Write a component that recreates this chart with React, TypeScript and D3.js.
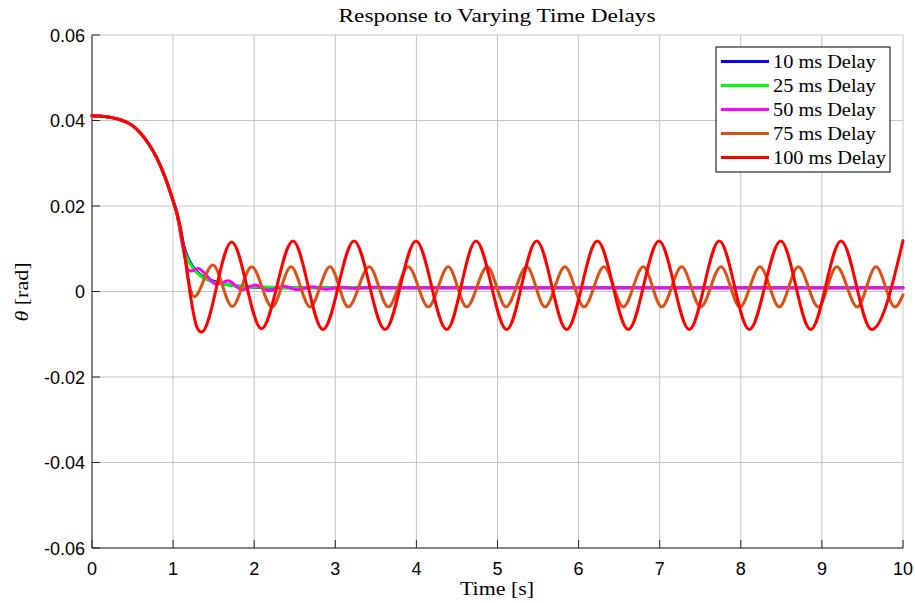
import React from "react";
import * as d3 from "d3";

// ---- data (time [s], theta [rad]) ----
const timeTicks = [0, 1, 2, 3, 4, 5, 6, 7, 8, 9, 10];
const thetaTicks = [-0.06, -0.04, -0.02, 0, 0.02, 0.04, 0.06];
const thetaTickLabels = ["-0.06", "-0.04", "-0.02", "0", "0.02", "0.04", "0.06"];

const initialDecay: [number, number][] = [
  [0, 0.0411], [0.2, 0.0408], [0.4, 0.0398], [0.5, 0.0388], [0.6, 0.0370],
  [0.7, 0.0345], [0.8, 0.0312], [0.9, 0.0268], [1.0, 0.0212], [1.05, 0.0181],
];

const delay10Tail: [number, number][] = [
  [1.09, 0.0143], [1.13, 0.0108], [1.17, 0.0085], [1.25, 0.0056], [1.35, 0.0037],
  [1.5, 0.0024], [1.7, 0.0015], [1.9, 0.0011], [2.2, 0.0009], [10, 0.0009],
];

const delay25Tail: [number, number][] = [
  [1.09, 0.0137], [1.13, 0.0101], [1.17, 0.0080], [1.25, 0.0053], [1.35, 0.0035],
  [1.5, 0.0022], [1.7, 0.0015], [1.9, 0.0011], [2.2, 0.0010], [2.5, 0.0009], [10, 0.0009],
];

const delay50Tail: [number, number][] = [
  [1.09, 0.0136], [1.14, 0.0085], [1.19, 0.0050], [1.23, 0.0048], [1.31, 0.0054],
  [1.40, 0.0040], [1.53, 0.0017], [1.68, 0.0025], [1.85, 0.0004], [2.01, 0.0015],
  [2.18, 0.0002], [2.37, 0.0012], [2.53, 0.0004], [2.71, 0.0011], [2.89, 0.0005],
  [3.07, 0.0010], [3.25, 0.0007], [3.45, 0.0010], [3.7, 0.0009], [10, 0.0009],
];

const delay75Tail: [number, number][] = [
  [1.09, 0.0142], [1.13, 0.0102], [1.19, 0.0025], [1.26, -0.0012], [1.49, 0.0062],
  [1.73, -0.0035], [1.969, 0.0058], [2.22, -0.0036], [2.454, 0.0058], [2.69, -0.0036],
  [2.935, 0.0058], [3.16, -0.0036], [3.419, 0.0058], [3.654, -0.0036], [3.9, 0.0058],
  [4.147, -0.0036], [4.393, 0.0058], [4.62, -0.0036], [4.874, 0.0058], [5.105, -0.0036],
  [5.36, 0.0058], [5.586, -0.0036], [5.832, 0.0058], [6.067, -0.0036], [6.313, 0.0058],
  [6.551, -0.0036], [6.798, 0.0058], [7.025, -0.0036], [7.271, 0.0058], [7.505, -0.0036],
  [7.756, 0.0058], [7.99, -0.0036], [8.237, 0.0058], [8.475, -0.0036], [8.709, 0.0058],
  [8.956, -0.0036], [9.183, 0.0058], [9.437, -0.0036], [9.667, 0.0058], [9.901, -0.0036],
  [10, -0.0008],
];

const delay100Tail: [number, number][] = [
  [1.09, 0.0150], [1.13, 0.0103], [1.17, 0.0050], [1.21, -0.0004], [1.25, -0.0050],
  [1.29, -0.0082], [1.35, -0.0095], [1.722, 0.0116], [2.09, -0.0087], [2.478, 0.0118],
  [2.848, -0.0089], [3.231, 0.0118], [3.613, -0.0089], [3.995, 0.0118], [4.374, -0.0089],
  [4.735, 0.0118], [5.113, -0.0089], [5.483, 0.0118], [5.853, -0.0089], [6.231, 0.0118],
  [6.613, -0.0089], [6.991, 0.0118], [7.365, -0.0089], [7.735, 0.0118], [8.105, -0.0089],
  [8.492, 0.0118], [8.862, -0.0089], [9.236, 0.0118], [9.614, -0.0089], [10, 0.0119],
];

const seriesNames = ["10 ms Delay", "25 ms Delay", "50 ms Delay", "75 ms Delay", "100 ms Delay"];
const seriesColors = ["#0000ff", "#00ff00", "#ff00ff", "#d95319", "#ff0000"];
const seriesTails = [delay10Tail, delay25Tail, delay50Tail, delay75Tail, delay100Tail];

const W = 915;
const H = 603;
const PL = 92, PR = 903, PT = 35, PB = 548;

export default function App() {
  const x = d3.scaleLinear().domain([0, 10]).range([PL, PR]);
  const y = d3.scaleLinear().domain([-0.06, 0.06]).range([PB, PT]);
  const line = d3
    .line<[number, number]>()
    .x((d) => x(d[0]))
    .y((d) => y(d[1]))
    .curve(d3.curveMonotoneX);

  const serif = "'Liberation Serif', 'Times New Roman', serif";
  const sans = "'Liberation Sans', Arial, sans-serif";
  const gridColor = "#c4c4c4";
  const axisColor = "#262626";

  return (
    <svg
      width={W}
      height={H}
      style={{ position: "absolute", left: 0, top: 0, background: "#fff" }}
    >
      <rect x={0} y={0} width={W} height={H} fill="#fff" />
      {/* grid */}
      {timeTicks.map((t) => (
        <line key={"gx" + t} x1={x(t)} x2={x(t)} y1={PT} y2={PB} stroke={gridColor} strokeWidth={1} />
      ))}
      {thetaTicks.map((v) => (
        <line key={"gy" + v} x1={PL} x2={PR} y1={y(v)} y2={y(v)} stroke={gridColor} strokeWidth={1} />
      ))}
      {/* axes */}
      <line x1={PL} x2={PL} y1={PT} y2={PB} stroke={axisColor} strokeWidth={1} />
      <line x1={PL} x2={PR} y1={PB} y2={PB} stroke={axisColor} strokeWidth={1} />
      {thetaTicks.map((v) => (
        <line key={"ty" + v} x1={PL} x2={PL + 8} y1={y(v)} y2={y(v)} stroke={axisColor} strokeWidth={1} />
      ))}
      {timeTicks.map((t) => (
        <line key={"tx" + t} x1={x(t)} x2={x(t)} y1={PB} y2={PB - 8} stroke={axisColor} strokeWidth={1} />
      ))}
      {/* tick labels */}
      {thetaTicks.map((v, i) => (
        <text
          key={"ly" + v}
          x={PL - 7}
          y={y(v) + 6.5}
          textAnchor="end"
          fontFamily={sans}
          fontSize={18}
          fill="#000"
        >
          {thetaTickLabels[i]}
        </text>
      ))}
      {timeTicks.map((t) => (
        <text
          key={"lx" + t}
          x={x(t)}
          y={575}
          textAnchor="middle"
          fontFamily={sans}
          fontSize={18}
          fill="#000"
        >
          {t}
        </text>
      ))}
      {/* series */}
      {seriesTails.map((tail, i) => (
        <path
          key={seriesNames[i]}
          d={line(initialDecay.concat(tail)) || ""}
          fill="none"
          stroke={seriesColors[i]}
          strokeWidth={3}
          strokeLinejoin="round"
          strokeLinecap="round"
        />
      ))}
      {/* title and axis labels */}
      <text x={497} y={22} textAnchor="middle" fontFamily={serif} fontSize={19} textLength={317} lengthAdjust="spacingAndGlyphs">
        Response to Varying Time Delays
      </text>
      <text x={497} y={595} textAnchor="middle" fontFamily={serif} fontSize={19} textLength={74} lengthAdjust="spacingAndGlyphs">
        Time [s]
      </text>
      <text
        transform={`translate(28, 292) rotate(-90)`}
        textAnchor="middle"
        fontFamily={serif}
        fontSize={19}
        textLength={59}
        lengthAdjust="spacingAndGlyphs"
      >
        <tspan fontStyle="italic">θ</tspan> [rad]
      </text>
      {/* legend */}
      <rect x={716} y={47} width={174} height={125} fill="#fff" stroke="#000" strokeWidth={1} />
      {seriesNames.map((name, i) => {
        const cy = 61.5 + i * 24;
        return (
          <g key={"lg" + name}>
            <line x1={721} x2={769} y1={cy} y2={cy} stroke={seriesColors[i]} strokeWidth={3} />
            <text
              transform={`translate(773, ${cy + 6}) scale(1.13, 1)`}
              fontFamily={serif}
              fontSize={18}
              fill="#000"
            >
              {name}
            </text>
          </g>
        );
      })}
    </svg>
  );
}
